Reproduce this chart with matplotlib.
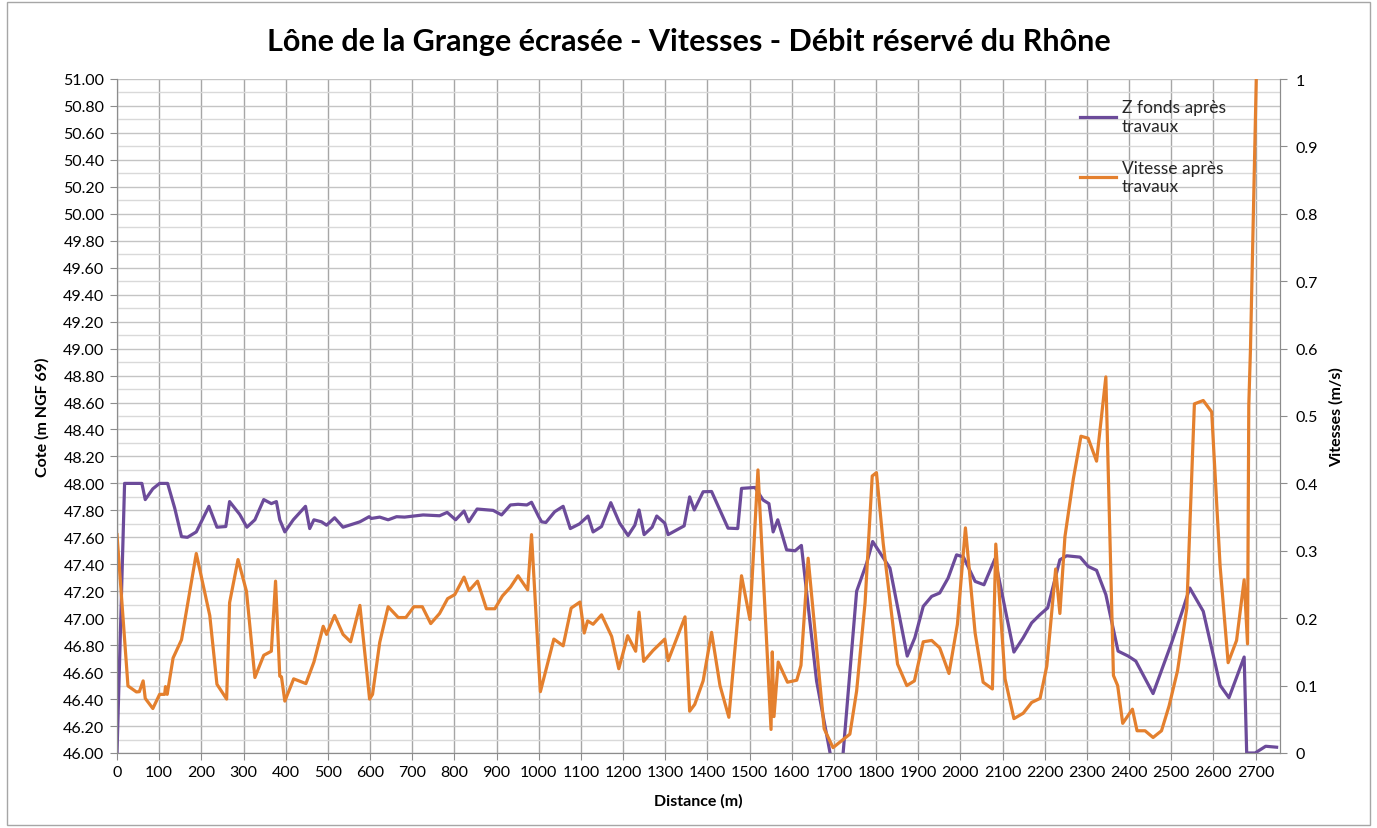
import matplotlib
matplotlib.use("Agg")
import matplotlib.pyplot as plt
from matplotlib.patches import Rectangle
from matplotlib.ticker import MultipleLocator, FormatStrFormatter

plt.rcParams['font.family'] = ['Lato', 'DejaVu Sans']

# Z fonds après travaux (m NGF 69)
dist_z = [0, 18, 59, 67, 85, 101, 120, 137, 153, 167, 188, 218, 237, 258, 267, 291, 308, 327,
          348, 366, 378, 386, 398, 418, 447, 457, 467, 485, 497, 516, 536, 576, 598, 603, 623,
          643, 663, 682, 726, 765, 783, 803, 823, 834, 854, 892, 912, 933, 951, 972, 983, 1000,
          1007, 1017, 1038, 1058, 1075, 1097, 1117, 1129, 1149, 1171, 1192, 1212, 1228, 1238,
          1250, 1269, 1280, 1299, 1307, 1345, 1358, 1369, 1390, 1410, 1449, 1472, 1481, 1513,
          1532, 1546, 1556, 1567, 1588, 1608, 1623, 1659, 1700, 1718, 1754, 1778, 1792, 1833,
          1874, 1892, 1912, 1932, 1951, 1971, 1991, 2007, 2035, 2056, 2082, 2127, 2149, 2169,
          2189, 2207, 2236, 2252, 2284, 2303, 2323, 2345, 2374, 2398, 2416, 2457, 2501, 2525,
          2544, 2576, 2616, 2637, 2673, 2679, 2699, 2724, 2750]
z_fonds = [46.0, 48.0, 48.0, 47.88, 47.96, 48.0, 48.0, 47.815, 47.605, 47.60, 47.64, 47.83,
           47.675, 47.68, 47.865, 47.77, 47.675, 47.73, 47.88, 47.85, 47.865, 47.73, 47.64,
           47.73, 47.83, 47.665, 47.73, 47.715, 47.69, 47.745, 47.675, 47.715, 47.753, 47.74,
           47.75, 47.73, 47.753, 47.75, 47.766, 47.76, 47.785, 47.73, 47.795, 47.715, 47.81,
           47.80, 47.766, 47.84, 47.845, 47.84, 47.86, 47.753, 47.715, 47.71, 47.79, 47.83,
           47.665, 47.70, 47.758, 47.64, 47.68, 47.857, 47.705, 47.613, 47.69, 47.803, 47.62,
           47.675, 47.758, 47.705, 47.62, 47.685, 47.90, 47.803, 47.938, 47.94, 47.668, 47.665,
           47.963, 47.97, 47.877, 47.85, 47.64, 47.73, 47.507, 47.50, 47.54, 46.534, 45.85,
           45.85, 47.20, 47.41, 47.569, 47.372, 46.719, 46.855, 47.088, 47.162, 47.187, 47.298,
           47.47, 47.455, 47.273, 47.248, 47.44, 46.749, 46.855, 46.965, 47.027, 47.076, 47.433,
           47.463, 47.453, 47.384, 47.355, 47.175, 46.756, 46.719, 46.682, 46.441, 46.818,
           47.04, 47.224, 47.051, 46.502, 46.41, 46.712, 46.0, 46.0, 46.05, 46.043]

# Vitesse après travaux (m/s)
dist_v = [0, 26, 46, 53, 62, 67, 85, 101, 113, 115, 119, 133, 153, 188, 220, 237, 260, 267,
          287, 307, 327, 348, 366, 376, 386, 390, 398, 419, 448, 467, 489, 497, 516, 536, 554,
          576, 599, 606, 623, 643, 667, 685, 704, 724, 744, 765, 784, 801, 823, 835, 855, 876,
          896, 914, 933, 951, 974, 983, 1004, 1036, 1058, 1077, 1098, 1108, 1116, 1129, 1149,
          1173, 1190, 1211, 1230, 1238, 1249, 1271, 1299, 1307, 1347, 1358, 1370, 1390, 1410,
          1430, 1451, 1481, 1501, 1520, 1551, 1554, 1558, 1568, 1590, 1612, 1622, 1639, 1677,
          1698, 1738, 1754, 1774, 1791, 1801, 1817, 1851, 1873, 1891, 1912, 1932, 1951, 1973,
          1993, 2012, 2035, 2054, 2076, 2084, 2106, 2127, 2149, 2169, 2189, 2205, 2226, 2236,
          2248, 2268, 2286, 2303, 2323, 2345, 2363, 2373, 2385, 2408, 2419, 2438, 2457, 2477,
          2495, 2515, 2537, 2555, 2576, 2596, 2616, 2635, 2655, 2673, 2681, 2684, 2688, 2712]
vitesse = [0.324, 0.0995, 0.0906, 0.091, 0.107, 0.081, 0.066, 0.087, 0.087, 0.0985, 0.087,
           0.141, 0.168, 0.296, 0.204, 0.102, 0.080, 0.223, 0.287, 0.240, 0.112, 0.145, 0.151,
           0.255, 0.114, 0.113, 0.077, 0.110, 0.103, 0.135, 0.188, 0.176, 0.204, 0.176, 0.165,
           0.219, 0.080, 0.087, 0.164, 0.217, 0.201, 0.201, 0.217, 0.217, 0.192, 0.207, 0.229,
           0.235, 0.261, 0.241, 0.255, 0.214, 0.214, 0.233, 0.246, 0.263, 0.242, 0.324, 0.091,
           0.169, 0.159, 0.215, 0.224, 0.178, 0.196, 0.191, 0.205, 0.173, 0.125, 0.174, 0.151,
           0.209, 0.136, 0.152, 0.169, 0.137, 0.202, 0.062, 0.072, 0.107, 0.179, 0.100, 0.053,
           0.263, 0.198, 0.420, 0.035, 0.150, 0.054, 0.135, 0.105, 0.108, 0.130, 0.289, 0.036,
           0.008, 0.028, 0.092, 0.223, 0.411, 0.416, 0.311, 0.132, 0.100, 0.107, 0.165, 0.167,
           0.156, 0.118, 0.191, 0.334, 0.178, 0.105, 0.095, 0.310, 0.110, 0.051, 0.059, 0.075,
           0.081, 0.129, 0.273, 0.207, 0.321, 0.407, 0.470, 0.467, 0.433, 0.558, 0.115, 0.100,
           0.044, 0.065, 0.033, 0.033, 0.023, 0.033, 0.070, 0.122, 0.215, 0.518, 0.523, 0.506,
           0.277, 0.134, 0.167, 0.257, 0.162, 0.516, 0.60, 1.3]

purple = '#6c4b9a'
orange = '#e4802e'
axis_grey = '#8c8c8c'

W, H = 1377, 829
fig = plt.figure(figsize=(W / 100, H / 100), dpi=100)
fig.patches.append(Rectangle((7 / W, 3 / H), 1363 / W, 823 / H, transform=fig.transFigure,
                             fill=False, edgecolor='#a6a6a6', linewidth=1))

ax = fig.add_axes([117 / W, 75 / H, 1163 / W, 674 / H])
ax2 = ax.twinx()

l1, = ax.plot(dist_z, z_fonds, color=purple, lw=2.3, label='Z fonds après\ntravaux')
l2, = ax2.plot(dist_v, vitesse, color=orange, lw=2.3, label='Vitesse après\ntravaux')

ax.set_xlim(0, 2758)
ax.set_ylim(46, 51)
ax2.set_ylim(0, 1)

ax.xaxis.set_major_locator(MultipleLocator(100))
ax.yaxis.set_major_locator(MultipleLocator(0.2))
ax.yaxis.set_minor_locator(MultipleLocator(0.1))
ax.yaxis.set_major_formatter(FormatStrFormatter('%.2f'))
ax2.set_yticks([0, 0.1, 0.2, 0.3, 0.4, 0.5, 0.6, 0.7, 0.8, 0.9, 1])
ax2.set_yticklabels(['0', '0.1', '0.2', '0.3', '0.4', '0.5', '0.6', '0.7', '0.8', '0.9', '1'])

ax.grid(axis='x', which='major', color='#a6a6a6', lw=1)
ax.grid(axis='y', which='major', color='#c4c4c4', lw=1)
ax.grid(axis='y', which='minor', color='#d9d9d9', lw=1)
ax.set_axisbelow(True)

for a in (ax, ax2):
    a.spines['top'].set_visible(False)
    for s in ('left', 'right', 'bottom'):
        a.spines[s].set_color(axis_grey)
ax.tick_params(axis='both', which='major', direction='out', length=5, color=axis_grey,
               labelsize=11.5, pad=4)
ax.tick_params(axis='y', which='minor', length=0)
ax2.tick_params(axis='y', direction='out', length=5, color=axis_grey, labelsize=11.5, pad=6)

ax.set_xlabel('Distance (m)', fontsize=11.5, fontweight='bold', labelpad=10)
ax.set_ylabel('Cote (m NGF 69)', fontsize=11.5, fontweight='bold', labelpad=10)
ax2.set_ylabel('Vitesses (m/s)', fontsize=11.5, fontweight='bold', labelpad=8)

fig.text(0.5, 1 - 42 / H, 'Lône de la Grange écrasée - Vitesses - Débit réservé du Rhône',
         ha='center', va='center', fontsize=22, fontweight='bold')

leg = ax2.legend(handles=[l1, l2], loc='upper left', bbox_to_anchor=(1080 / W, 1 - 100 / H),
                 bbox_transform=fig.transFigure, frameon=False, fontsize=12.5,
                 handlelength=2.1, handletextpad=0.3, labelspacing=1.5, borderpad=0,
                 borderaxespad=0)
for t in leg.get_texts():
    t.set_color('#262626')

fig.savefig('out.png', dpi=100)
